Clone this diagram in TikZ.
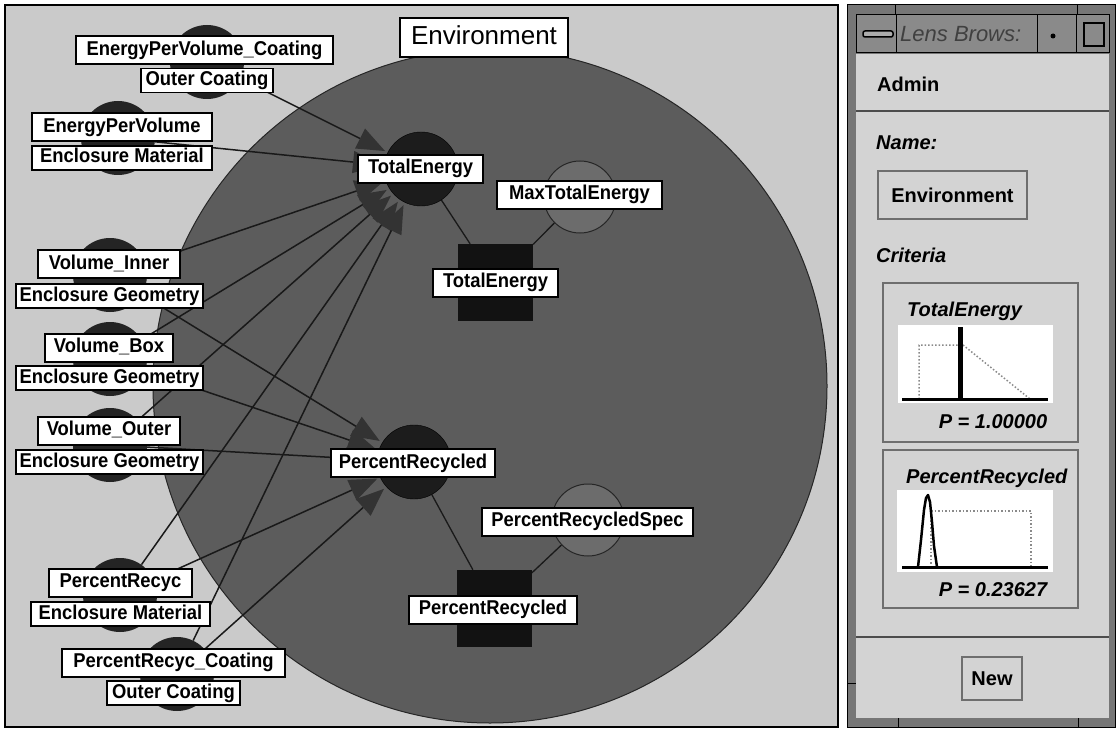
\documentclass[tikz,border=0pt]{standalone}
\usepackage{fontspec}
\setmainfont{Liberation Sans}
\newfontfamily\labfam{Liberation Sans}[FakeStretch=0.92]
\usetikzlibrary{arrows.meta}
\definecolor{bggray}{HTML}{CACACA}
\definecolor{envgray}{HTML}{5C5C5C}
\definecolor{blobgray}{HTML}{242424}
\definecolor{nodedark}{HTML}{1C1C1C}
\definecolor{specgray}{HTML}{6C6C6C}
\definecolor{arrowgray}{HTML}{333333}
\definecolor{panelgray}{HTML}{D3D3D3}
\definecolor{framegray}{HTML}{767676}
\definecolor{titlegray}{HTML}{8A8A8A}
\definecolor{boxgray}{HTML}{6E6E6E}
\definecolor{dotgray}{HTML}{8A8A8A}
\pgfdeclarelayer{bg}
\pgfdeclarelayer{edges}
\pgfsetlayers{bg,edges,main}
\newcommand\labfont{\labfam\fontsize{20}{22}\selectfont\bfseries}
\newcommand\envfont{\fontsize{26}{28}\selectfont}
\newcommand\uifont{\fontsize{20}{22}\selectfont\bfseries}
\newcommand\uiitfont{\fontsize{20}{22}\selectfont\bfseries\itshape}
\begin{document}
\begin{tikzpicture}[x=1pt,y=-1pt,
  namebox/.style={draw=black, line width=2pt, fill=white, font=\labfont, inner sep=0pt, text height=14pt, text depth=4pt, minimum height=28pt},
  subbox/.style={draw=black, line width=1.2pt, fill=white, font=\labfont, inner sep=0pt, text height=14pt, text depth=4pt, minimum height=24pt},
  blob/.style={circle, fill=blobgray, minimum size=74pt, inner sep=0pt},
  varnode/.style={circle, fill=nodedark, draw=black, minimum size=74pt, inner sep=0pt},
  specnode/.style={circle, fill=specgray, draw=black!85, line width=1pt, minimum size=72pt, inner sep=0pt},
  critsq/.style={rectangle, fill=black!93, minimum width=75pt, minimum height=77pt, inner sep=0pt},
  infl/.style={draw=black!90, line width=1.5pt, shorten >=3pt, -{Triangle[length=28pt,width=22pt,color=arrowgray]}},
  link/.style={draw=black!90, line width=1.3pt},
  uitext/.style={font=\uifont, inner sep=0pt},
  uiit/.style={font=\uiitfont, inner sep=0pt},
]
\useasboundingbox (0,0) rectangle (1116,730);
\begin{pgfonlayer}{bg}
\fill[white] (0,0) rectangle (1116,730);
\draw[fill=bggray, line width=2pt] (5,5) rectangle (838,727);
\node[circle, fill=envgray, draw=black!85, line width=1pt, minimum size=674pt, inner sep=0pt] (env) at (490,386) {};
\end{pgfonlayer}

% source blobs
\node[blob] (bepvc) at (207,62) {};
\node[blob] (bepv) at (118,138) {};
\node[blob] (bvi) at (110,275) {};
\node[blob] (bvb) at (110,359) {};
\node[blob] (bvo) at (110,445) {};
\node[blob] (bpr) at (120,595) {};
\node[blob] (bprc) at (177,674) {};

% central nodes
\node[varnode] (tec) at (421,169) {};
\node[specnode] (mtec) at (580,197) {};
\node[critsq] (tesq) at (495.5,282.5) {};
\node[varnode] (prc) at (414,462) {};
\node[specnode] (prsc) at (588,520) {};
\node[critsq] (prsq) at (494,608.5) {};

\begin{pgfonlayer}{edges}
\foreach \s in {bepvc,bepv,bvi,bvb,bvo,bpr,bprc} \draw[infl] (\s) -- (tec);
\foreach \s in {bvi,bvb,bvo,bpr,bprc} \draw[infl] (\s) -- (prc);
\draw[link] (tec) -- (tesq);
\draw[link] (mtec) -- (tesq);
\draw[link] (prc) -- (prsq);
\draw[link] (prsc) -- (prsq);
\end{pgfonlayer}

% labels
\node[namebox, minimum width=257pt] (lepvc) at (204.5,50.5) {EnergyPerVolume\_Coating};
\node[subbox, minimum width=132pt] (sepvc) at (207,80.5) {Outer Coating};
\node[namebox, minimum width=180pt] (lepv) at (122,127.5) {EnergyPerVolume};
\node[subbox, minimum width=180pt] (sepv) at (122,158) {Enclosure Material};
\node[namebox, minimum width=142pt] (lvi) at (109,264) {Volume\_Inner};
\node[subbox, minimum width=187pt] (svi) at (109.5,296) {Enclosure Geometry};
\node[namebox, minimum width=128pt] (lvb) at (109,347.5) {Volume\_Box};
\node[subbox, minimum width=187pt] (svb) at (109.5,378) {Enclosure Geometry};
\node[namebox, minimum width=142pt] (lvo) at (109,430.5) {Volume\_Outer};
\node[subbox, minimum width=187pt] (svo) at (109.5,462) {Enclosure Geometry};
\node[namebox, minimum width=143pt] (lpr) at (120.5,582.5) {PercentRecyc};
\node[subbox, minimum width=179pt] (spr) at (120.5,614) {Enclosure Material};
\node[namebox, minimum width=223pt] (lprcoat) at (173.5,662.5) {PercentRecyc\_Coating};
\node[subbox, minimum width=133pt] (sprcoat) at (173.5,693) {Outer Coating};

\node[namebox, minimum width=125pt] (ltec) at (420.5,169) {TotalEnergy};
\node[namebox, minimum width=165pt] (lmtec) at (579.5,195) {MaxTotalEnergy};
\node[namebox, minimum width=125pt] (ltesq) at (495.5,282.5) {TotalEnergy};
\node[namebox, minimum width=164pt] (lprcirc) at (413,463) {PercentRecycled};
\node[namebox, minimum width=211pt] (lprsc) at (587.5,521.5) {PercentRecycledSpec};
\node[namebox, minimum width=168pt] (lprsq) at (493,609.5) {PercentRecycled};

\node[draw=black, line width=2.5pt, fill=white, font=\envfont, minimum width=168pt, minimum height=39pt, inner sep=0pt, text height=19pt, text depth=5pt] (lenv) at (484,37.5) {Environment};

% ---------- right panel (Lens Browser window) ----------
\draw[fill=framegray, line width=1pt] (847,5) rectangle (1115,727);
\foreach \xx in {895,1077} \draw[line width=0.8pt] (\xx,5) -- (\xx,15);
\foreach \xx in {898,1078} \draw[line width=0.8pt] (\xx,718) -- (\xx,727);
\draw[line width=0.8pt] (847,683) -- (856,683);
\draw[fill=titlegray, line width=1pt] (856,15) rectangle (1109,53);
\draw[line width=1pt] (896,15) -- (896,53);
\draw[line width=1pt] (1037,15) -- (1037,53);
\draw[line width=1pt] (1076,15) -- (1076,53);
\draw[line width=1.5pt, rounded corners=2pt, fill=titlegray!70] (863,31) rectangle (893,37);
\fill (1053,36) circle (2.5pt);
\draw[line width=1.5pt] (1084,23) rectangle (1104,46);
\node[anchor=west, font=\fontsize{22}{24}\selectfont\itshape, text=black!75, inner sep=0pt] (ttl) at (900,34) {Lens Brows:};
\fill[panelgray] (856,54) rectangle (1109,718);
\node[uitext, anchor=west] (admin) at (877,84) {Admin};
\draw[line width=1.2pt, black!70] (856,111) -- (1109,111);
\node[uiit, anchor=west] (namel) at (876,143) {Name:};
\draw[boxgray, line width=1.5pt] (878,171) rectangle (1027,219);
\node[uitext] (namef) at (952.5,195) {Environment};
\node[uiit, anchor=west] (crit) at (876,255) {Criteria};

\draw[boxgray, line width=1.5pt] (883,283) rectangle (1078,442);
\node[uiit, anchor=west] (c1t) at (907,311) {TotalEnergy};
\fill[white] (898,325) rectangle (1053,403);
\draw[dotgray, line width=1.5pt, dotted] (919,399) -- (919,345) -- (963,345) -- (1030,399);
\fill[black] (958,327) rectangle (963,399);
\draw[line width=3pt] (902,399) -- (1048,399);
\node[uiit] (p1) at (993,422) {P = 1.00000};

\draw[boxgray, line width=1.5pt] (883,450) rectangle (1078,608);
\node[uiit, anchor=west] (c2t) at (906,478) {PercentRecycled};
\fill[white] (897,490) rectangle (1053,572);
\draw[dotgray, line width=1.5pt, dotted] (931,567) -- (931,511) -- (1031,511) -- (1031,567);
\draw[line width=2.5pt, line join=round] (918,567) -- (921,540) -- (924,510) -- (926,498) -- (928,495) -- (930,502) -- (932,522) -- (934,546) -- (937,567);
\draw[line width=3pt] (902,567) -- (1048,567);
\node[uiit] (p2) at (993,590) {P = 0.23627};

\draw[line width=1.2pt, black!70] (856,637) -- (1109,637);
\draw[boxgray, line width=2pt, fill=panelgray] (962,657) rectangle (1022,700);
\node[uitext] (newb) at (992,678.5) {New};
\end{tikzpicture}
\end{document}
